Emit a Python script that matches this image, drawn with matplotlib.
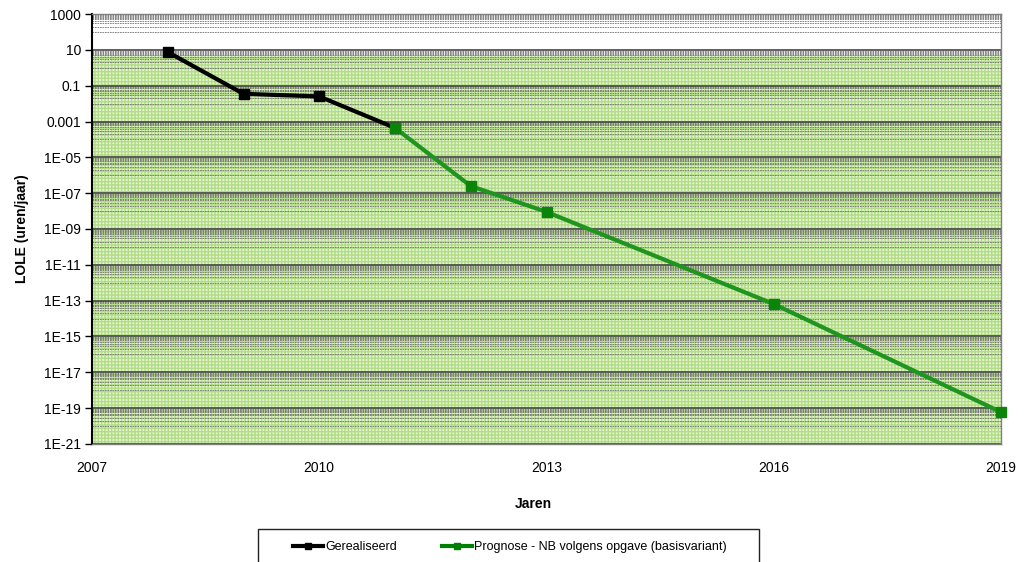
import matplotlib
matplotlib.use("Agg")
import matplotlib.pyplot as plt
import numpy as np
from matplotlib.patches import Rectangle
from matplotlib.lines import Line2D

plt.rcParams['font.family'] = ['Liberation Sans', 'DejaVu Sans']
plt.rcParams['hatch.linewidth'] = 1.0
plt.rcParams['hatch.color'] = '#b3dc86'

# Data
years_real = [2008, 2009, 2010, 2011]
lole_real = [7.5, 0.035, 0.025, 4.4e-4]
years_prog = [2011, 2012, 2013, 2016, 2019]
lole_prog = [4.4e-4, 2.5e-7, 9e-9, 6.5e-14, 6e-20]
x_ticks = [2007, 2010, 2013, 2016, 2019]
y_ticks = [10.0 ** e for e in range(-21, 4, 2)]
y_labels = ['1E-21', '1E-19', '1E-17', '1E-15', '1E-13', '1E-11', '1E-09',
            '1E-07', '1E-05', '0.001', '0.1', '10', '1000']
label_real = 'Gerealiseerd'
label_prog = 'Prognose - NB volgens opgave (basisvariant)'

W, H = 1031, 562
fig = plt.figure(figsize=(W / 100, H / 100), dpi=100)
ax = fig.add_axes([92 / W, 1 - 444 / H, 909 / W, 430 / H])
ax.set_yscale('log')
ax.set_xlim(2007, 2019)
ax.set_ylim(1e-21, 1e3)

# green band
ax.axhspan(1e-21, 5, facecolor='#e6f5d6', edgecolor='#b3dc86', hatch='+++++', lw=0, zorder=0)

# minor dashed gridlines
for n in range(-10, 2):
    for k in range(1, 10):
        v = k * 10.0 ** (2 * n)
        ax.axhline(v, color='#707070', lw=0.6, ls=(0, (2, 1)), zorder=1)
for v in y_ticks:
    ax.axhline(v, color='#454545', lw=1.2, zorder=2)

ax.plot(years_real, lole_real, color='#000000', lw=3, marker='s', ms=7, zorder=5, clip_on=False)
ax.plot(years_prog, lole_prog, color='#1e951e', lw=3, marker='s', ms=7,
        mfc='#0a850a', mec='#0a850a', zorder=6, clip_on=False)

ax.set_xticks(x_ticks)
ax.set_xticklabels([str(x) for x in x_ticks], fontsize=10)
ax.set_yticks(y_ticks)
ax.set_yticklabels(y_labels, fontsize=10)
ax.minorticks_off()
ax.tick_params(axis='y', direction='out', length=5, width=1, pad=3)
ax.tick_params(axis='x', length=0, pad=12)

for s in ['top', 'right', 'bottom']:
    ax.spines[s].set_color('#808080')
    ax.spines[s].set_linewidth(1)
ax.spines['left'].set_color('#000000')
ax.spines['left'].set_linewidth(1.5)

fig.text(22 / W, 1 - 229 / H, 'LOLE (uren/jaar)', rotation=90, ha='center', va='center',
         fontsize=10, fontweight='bold')
fig.text(533 / W, 1 - 504 / H, 'Jaren', ha='center', va='center', fontsize=10, fontweight='bold')

# legend box
fig.patches.append(Rectangle((258 / W, 1 - 575 / H), 501 / W, 46 / H, transform=fig.transFigure,
                             facecolor='white', edgecolor='#222222', lw=1))
handles = [Line2D([], [], color='#000000', lw=3, marker='s', ms=5),
           Line2D([], [], color='#008000', lw=3, marker='s', ms=5)]
fig.legend(handles, [label_real, label_prog], loc='center', bbox_to_anchor=(510 / W, 1 - 547 / H),
           ncol=2, frameon=False, fontsize=9, handlelength=2.4, handletextpad=0.15,
           columnspacing=3.6)

fig.savefig('out.png', dpi=100)
